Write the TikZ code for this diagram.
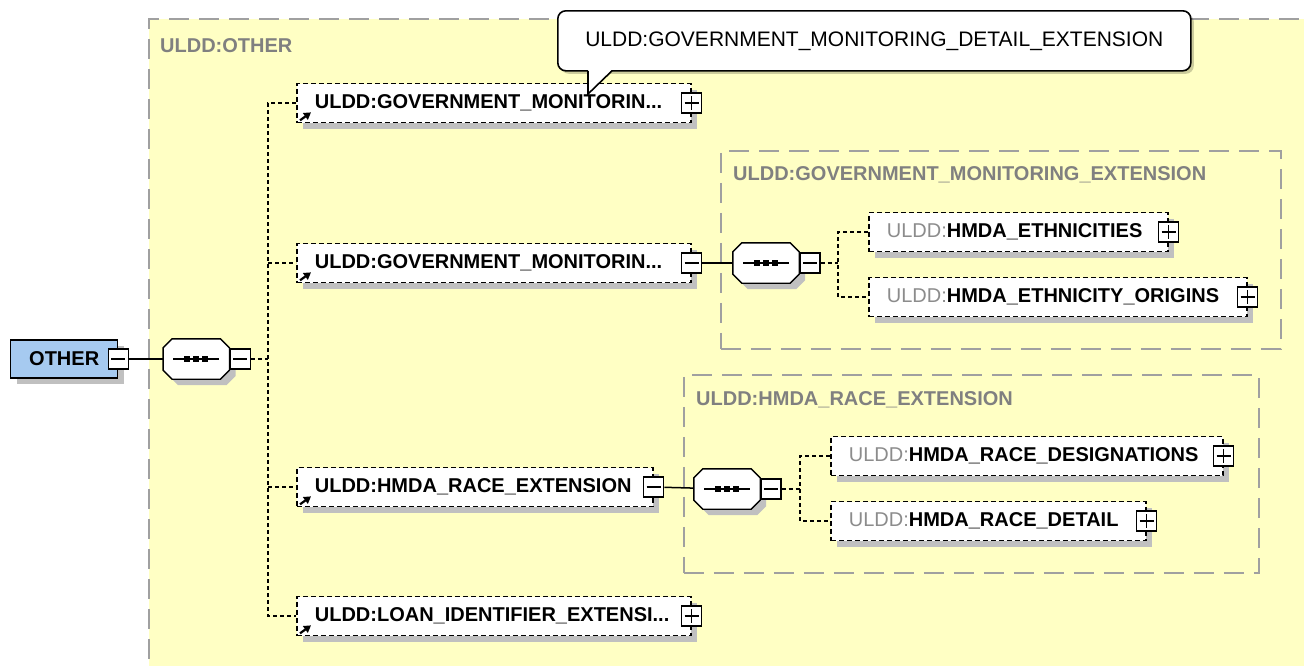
\documentclass[tikz,border=0pt]{standalone}
\usepackage{fontspec}
\setmainfont{Liberation Sans}
\usetikzlibrary{shadows,arrows.meta,positioning}

\definecolor{paleyellow}{RGB}{255,255,196}
\definecolor{rootblue}{RGB}{166,202,240}
\definecolor{framegray}{RGB}{160,160,160}
\definecolor{labelgray}{RGB}{128,128,128}
\definecolor{prefixgray}{RGB}{140,140,140}
\definecolor{shadowgray}{RGB}{192,192,192}

% octagon of a sequence compositor, drawn round an empty node
\newcommand\seqglyph[1]{%
  \fill[shadowgray] ([xshift=15pt,yshift=-6pt]#1.north west) -- ([xshift=-3pt,yshift=-6pt]#1.north east)
    -- ([xshift=6pt,yshift=-15pt]#1.north east) -- ([xshift=6pt,yshift=3pt]#1.south east)
    -- ([xshift=-3pt,yshift=-6pt]#1.south east) -- ([xshift=15pt,yshift=-6pt]#1.south west)
    -- ([xshift=6pt,yshift=3pt]#1.south west) -- ([xshift=6pt,yshift=-15pt]#1.north west) -- cycle;
  \filldraw[seqline] ([xshift=9pt]#1.north west) -- ([xshift=-9pt]#1.north east)
    -- ([yshift=-9pt]#1.north east) -- ([yshift=9pt]#1.south east)
    -- ([xshift=-9pt]#1.south east) -- ([xshift=9pt]#1.south west)
    -- ([yshift=9pt]#1.south west) -- ([yshift=-9pt]#1.north west) -- cycle;
  \draw[seqline] ([xshift=-23pt]#1.center) -- ([xshift=23pt]#1.center);
  \foreach \dx in {-9,0,9}
    \fill ([xshift=\dx pt]#1.center) +(-3pt,-3pt) rectangle +(3pt,3pt);%
}

\begin{document}
\begin{tikzpicture}[x=1pt, y=-1pt,
    namefont/.style={font=\fontsize{20pt}{24pt}\selectfont\bfseries},
    boxshadow/.style={drop shadow={shadow xshift=6pt, shadow yshift=-6pt, fill=shadowgray, draw=none, opacity=1}},
    root/.style={rectangle, draw=black, line width=1.4pt, fill=rootblue, anchor=west, minimum width=107pt, minimum height=38pt, inner sep=0pt, namefont, boxshadow},
    elem/.style={rectangle, draw=black, line width=1.7pt, dash pattern=on 5pt off 3pt, fill=white, anchor=west, minimum height=39pt, inner xsep=0pt, inner ysep=0pt, text height=14.3pt, text depth=3pt, align=left, namefont, execute at begin node={\hspace*{18pt}}, boxshadow},
    pmbox/.style={rectangle, draw=black, solid, line width=1.4pt, fill=white, minimum size=20pt, inner sep=0pt},
    plusbox/.style={pmbox, path picture={
        \draw[line width=1.4pt] ([xshift=3pt]path picture bounding box.west) -- ([xshift=-3pt]path picture bounding box.east)
            ([yshift=-3pt]path picture bounding box.north) -- ([yshift=3pt]path picture bounding box.south);}},
    minusbox/.style={pmbox, path picture={
        \draw[line width=1.4pt] ([xshift=3pt]path picture bounding box.west) -- ([xshift=-3pt]path picture bounding box.east);}},
    seq/.style={rectangle, minimum width=66pt, minimum height=40pt, inner sep=0pt},
    seqline/.style={draw=black, fill=white, line width=1.4pt},
    frame/.style={rectangle, draw=framegray, line width=1.6pt, dash pattern=on 20pt off 10pt, anchor=north west, inner sep=0pt},
    grouplabel/.style={anchor=west, inner sep=0pt, text=labelgray, namefont},
    conn/.style={draw=black, line width=1.5pt, dash pattern=on 4pt off 3pt},
    link/.style={draw=black, line width=1.5pt},
    refarrow/.style={line width=2.2pt, -{Triangle[length=7pt,width=8pt]}},
    tip/.style={rectangle, rounded corners=8pt, draw=black, line width=1.6pt, fill=white, anchor=north west, minimum width=633pt, minimum height=60pt, inner sep=0pt, font=\fontsize{21pt}{25pt}\selectfont, drop shadow={shadow xshift=3pt, shadow yshift=-3pt, fill=black, opacity=.2}},
]
    \useasboundingbox (0,0) rectangle (1304,665);

    % --- ULDD:OTHER content area ---
    \node[frame, fill=paleyellow, minimum width=1200pt, minimum height=700pt] (otherx) at (148,18) {};
    \node[grouplabel] (otherxl) at (160,46) {ULDD:OTHER};

    % --- root element and its sequence ---
    \node[root] (other) at (10,359) {OTHER};
    \node[minusbox] (otherm) at (other.east) {};
    \node[seq, right=34pt of otherm] (seq1) {};
    \seqglyph{seq1}
    \node[minusbox, right=0pt of seq1] (seq1m) {};
    \coordinate (spine) at (268,359);

    % --- children of ULDD:OTHER ---
    \node[elem, text width=394pt] (gm1) at (296,103) {ULDD:GOVERNMENT\_MONITORIN...};
    \node[plusbox] (gm1p) at (gm1.east) {};
    \draw[refarrow] ([xshift=4pt,yshift=3pt]gm1.south west) -- ++(11pt,8pt);

    \node[elem, text width=394pt] (gm2) at (296,263) {ULDD:GOVERNMENT\_MONITORIN...};
    \node[minusbox] (gm2m) at (gm2.east) {};
    \draw[refarrow] ([xshift=4pt,yshift=3pt]gm2.south west) -- ++(11pt,8pt);

    \node[elem, text width=356pt] (race) at (296,487) {ULDD:HMDA\_RACE\_EXTENSION};
    \node[minusbox] (racem) at (race.east) {};
    \draw[refarrow] ([xshift=4pt,yshift=3pt]race.south west) -- ++(11pt,8pt);

    \node[elem, text width=394pt] (loan) at (296,616) {ULDD:LOAN\_IDENTIFIER\_EXTENSI...};
    \node[plusbox] (loanp) at (loan.east) {};
    \draw[refarrow] ([xshift=4pt,yshift=3pt]loan.south west) -- ++(11pt,8pt);

    % --- ULDD:GOVERNMENT_MONITORING_EXTENSION ---
    \node[frame, minimum width=560pt, minimum height=198pt] (gmx) at (720,150) {};
    \node[grouplabel] (gmxl) at (733,175) {ULDD:GOVERNMENT\_MONITORING\_EXTENSION};
    \node[seq] (seq2) at (766,263) {};
    \seqglyph{seq2}
    \node[minusbox, right=0pt of seq2] (seq2m) {};
    \coordinate (gmxj) at (838,263);
    \node[elem, text width=299pt] (eth) at (868,232) {{\mdseries\color{prefixgray}ULDD:}HMDA\_ETHNICITIES};
    \node[plusbox] (ethp) at (eth.east) {};
    \node[elem, text width=378pt] (ori) at (868,297) {{\mdseries\color{prefixgray}ULDD:}HMDA\_ETHNICITY\_ORIGINS};
    \node[plusbox] (orip) at (ori.east) {};

    % --- ULDD:HMDA_RACE_EXTENSION ---
    \node[frame, minimum width=575pt, minimum height=198pt] (racex) at (683,374) {};
    \node[grouplabel] (racexl) at (696,400) {ULDD:HMDA\_RACE\_EXTENSION};
    \node[seq] (seq3) at (727,489) {};
    \seqglyph{seq3}
    \node[minusbox, right=0pt of seq3] (seq3m) {};
    \coordinate (racexj) at (800,489);
    \node[elem, text width=392pt] (des) at (830,456) {{\mdseries\color{prefixgray}ULDD:}HMDA\_RACE\_DESIGNATIONS};
    \node[plusbox] (desp) at (des.east) {};
    \node[elem, text width=315pt] (det) at (830,521) {{\mdseries\color{prefixgray}ULDD:}HMDA\_RACE\_DETAIL};
    \node[plusbox] (detp) at (det.east) {};

    % --- connectors ---
    \draw[link] (otherm) -- (seq1);
    \draw[conn] (seq1m.east) -- (spine);
    \draw[conn] (gm1.west) -| (spine) |- (loan.west);
    \draw[conn] (spine |- gm2.west) -- (gm2.west);
    \draw[conn] (spine |- race.west) -- (race.west);

    \draw[link] (gm2m) -- (seq2);
    \draw[conn] (seq2m.east) -- (gmxj);
    \draw[conn] (eth.west) -| (gmxj) |- (ori.west);

    \draw[link] (racem) -- (seq3);
    \draw[conn] (seq3m.east) -- (racexj);
    \draw[conn] (des.west) -| (racexj) |- (det.west);

    % --- tooltip over the first child ---
    \node[tip] (tip) at (557,10) {ULDD:GOVERNMENT\_MONITORING\_DETAIL\_EXTENSION};
    \coordinate (tail) at (588,94);
    \fill[white] ([yshift=2pt]tip.south -| tail) -- (tail) -- ([xshift=24pt,yshift=2pt]tip.south -| tail) -- cycle;
    \draw[line width=1.6pt] ([yshift=0.8pt]tip.south -| tail) -- (tail) -- ([xshift=24pt,yshift=0.8pt]tip.south -| tail);
\end{tikzpicture}
\end{document}
